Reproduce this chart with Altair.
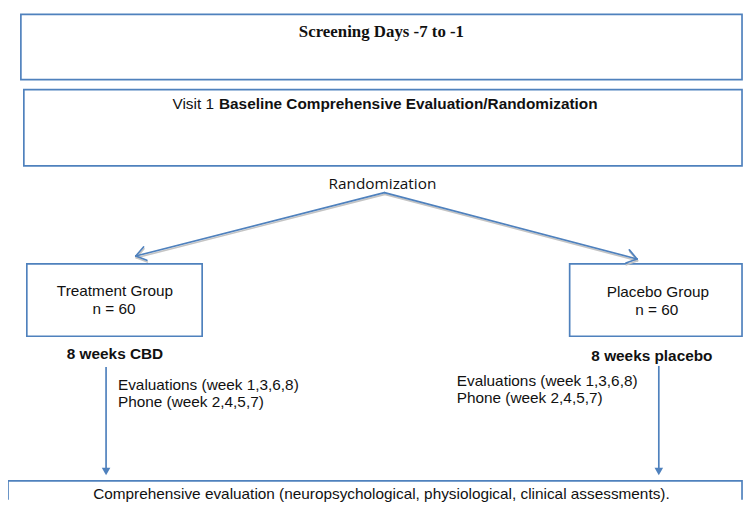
import altair as alt
import pandas as pd
import numpy as np

BLUE = "#4F81BD"
W, H = 743, 494          # plot area (page px 8..751, 8..502)

# ---- boxes (page pixel coordinates) ----
box_x0 = [21, 24, 27, 575, 8]
box_x1 = [749, 749, 204, 749, 749]
box_y0 = [12, 88, 264, 264, 483]
box_y1 = [78, 165, 337, 337, 540]

# ---- randomization branches ----
apex_x, apex_y = 388, 192
tip_x = [137, 643]
tip_y = [256, 259]

# ---- vertical arrows ----
vert_x = [107, 665]
vert_top = [368, 367]
vert_tip = [478, 478]

# ---- texts ----
text_label = [
    "Screening Days -7 to -1",
    "Visit 1",
    "Baseline Comprehensive Evaluation/Randomization",
    "Randomization",
    "Treatment Group", "n = 60",
    "Placebo Group", "n = 60",
    "8 weeks CBD", "8 weeks placebo",
    "Evaluations (week 1,3,6,8)", "Phone (week 2,4,5,7)",
    "Evaluations (week 1,3,6,8)", "Phone (week 2,4,5,7)",
    "Comprehensive evaluation (neuropsychological, physiological, clinical assessments).",
]
text_x = [385, 174, 221, 386, 116, 115, 664, 663, 116, 658, 119, 119, 461, 461, 385]
text_y = [30, 103, 103, 183, 291, 310, 292, 311, 355, 357, 386, 403, 382, 399, 496]
text_style = ["serif_bold", "sans", "sans_bold", "calibri",
              "sans", "sans", "sans", "sans",
              "sans_bold", "sans_bold",
              "sans", "sans", "sans", "sans", "sans"]
text_align = ["center", "left", "left", "center",
              "center", "center", "center", "center",
              "center", "center",
              "left", "left", "left", "left", "center"]

xs = alt.Scale(domain=[8, 8 + W], nice=False, zero=False)
ys = alt.Scale(domain=[8, 8 + H], nice=False, zero=False, reverse=True)

def X(f="x"):
    return alt.X(f"{f}:Q", scale=xs, axis=None)

def Y(f="y"):
    return alt.Y(f"{f}:Q", scale=ys, axis=None)

boxes = pd.DataFrame({"x": box_x0, "x2": box_x1, "y": box_y0, "y2": box_y1})
box_layer = alt.Chart(boxes).mark_rect(
    fillOpacity=0, stroke=BLUE, strokeWidth=1.7, clip=True
).encode(x=X(), x2="x2:Q", y=Y(), y2="y2:Q")

# diagonal branch lines + open arrowheads
segs = []
for tx, ty in zip(tip_x, tip_y):
    segs.append((apex_x, apex_y, tx, ty))
    u = np.array([apex_x - tx, apex_y - ty], dtype=float)
    u /= np.linalg.norm(u)
    for ang in (np.radians(35), -np.radians(35)):
        r = np.array([[np.cos(ang), -np.sin(ang)], [np.sin(ang), np.cos(ang)]]) @ u
        segs.append((tx, ty, tx + 12 * r[0], ty + 12 * r[1]))
seg_df = pd.DataFrame(segs, columns=["x", "y", "x2", "y2"])
shadow_df = seg_df.assign(y=seg_df.y + 1.8, y2=seg_df.y2 + 1.8, x=seg_df.x + 0.5, x2=seg_df.x2 + 0.5)

shadow_layer = alt.Chart(shadow_df).mark_rule(
    color="#c4c4c4", strokeWidth=1.6, strokeCap="round"
).encode(x=X(), y=Y(), x2="x2:Q", y2="y2:Q")
branch_layer = alt.Chart(seg_df).mark_rule(
    color=BLUE, strokeWidth=1.7, strokeCap="round"
).encode(x=X(), y=Y(), x2="x2:Q", y2="y2:Q")

# vertical arrows
vdf = pd.DataFrame({"x": vert_x, "y": vert_top, "y2": [t - 6 for t in vert_tip],
                    "yt": [t - 4.5 for t in vert_tip]})
vline = alt.Chart(vdf).mark_rule(color=BLUE, strokeWidth=1.7).encode(
    x=X(), y=Y(), y2="y2:Q")
vhead = alt.Chart(vdf).mark_point(
    shape="triangle-down", filled=True, color=BLUE, size=75, opacity=1
).encode(x=X(), y=Y("yt"))

# texts
tdf = pd.DataFrame({"label": text_label, "x": text_x, "y": text_y,
                    "style": text_style, "align": text_align})
styles = {
    "serif_bold": dict(font="Liberation Serif", fontWeight="bold", fontSize=17),
    "sans": dict(font="Liberation Sans", fontWeight="normal", fontSize=15.5),
    "sans_bold": dict(font="Liberation Sans", fontWeight="bold", fontSize=15.5),
    "calibri": dict(font="Open Sans", fontWeight="normal", fontSize=15.5),
}
text_layers = []
for (st, al), sub in tdf.groupby(["style", "align"]):
    text_layers.append(
        alt.Chart(sub).mark_text(align=al, baseline="middle", color="#111111", **styles[st])
        .encode(x=X(), y=Y(), text="label:N")
    )

chart = alt.layer(box_layer, shadow_layer, branch_layer, vline, vhead, *text_layers).properties(
    width=W, height=H, autosize=alt.AutoSizeParams(type="none"), padding=0,
    background="white"
).configure_view(strokeWidth=0)

chart.save("out.html", embed_options={"renderer": "svg", "actions": False})
